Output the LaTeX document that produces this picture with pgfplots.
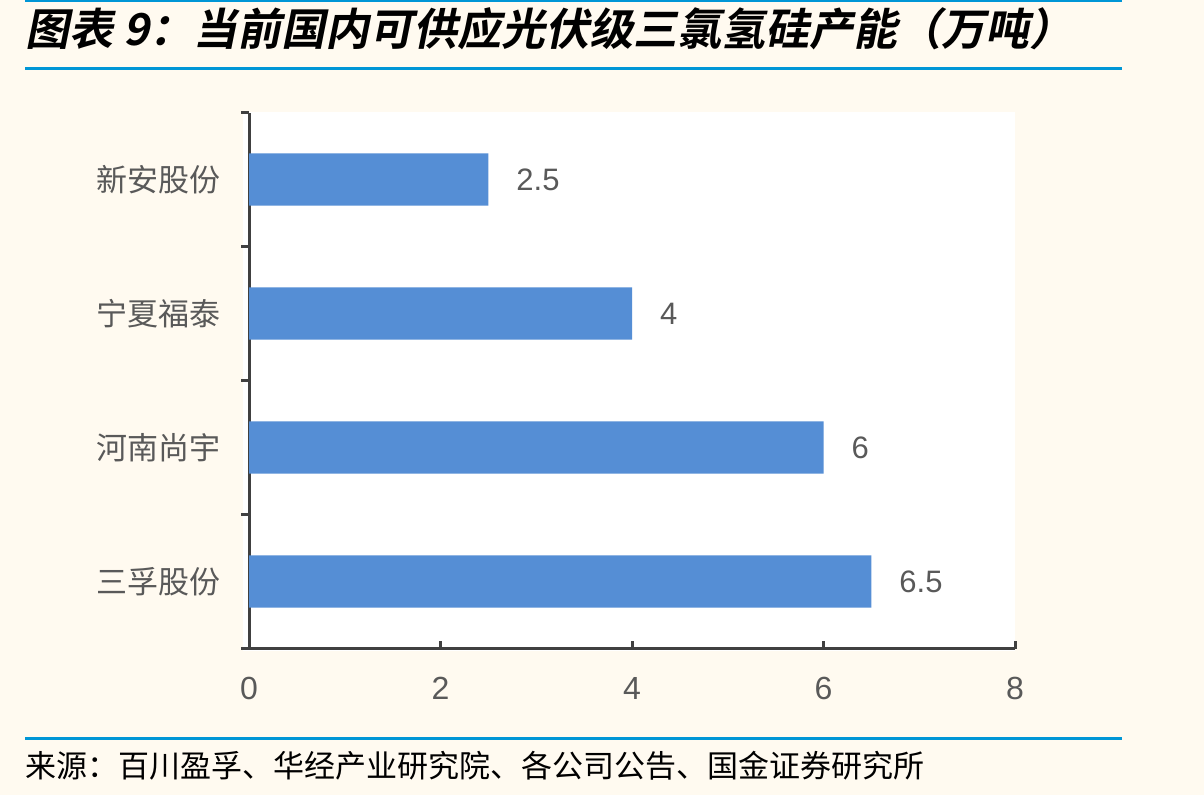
\documentclass[border=0pt]{standalone}
\usepackage{fontspec}
\setmainfont{Liberation Sans}
\newfontfamily\cjk{Noto Sans CJK SC}
\newfontfamily\cjktitle[FakeSlant=0.2]{Noto Sans CJK SC Bold}
\usepackage{pgfplots}
\pgfplotsset{compat=1.18}
\definecolor{bg}{RGB}{255,250,240}
\definecolor{barcol}{RGB}{85,142,213}
\definecolor{txtcol}{RGB}{89,89,89}
\definecolor{axcol}{RGB}{64,64,64}
\definecolor{blueline}{RGB}{0,150,214}
\begin{document}
\begin{tikzpicture}[x=0.5pt,y=0.5pt]
\fill[bg] (0,0) rectangle (1204,794);
\draw[blueline, line width=1pt] (25,793.5) -- (1122,793.5);
\draw[blueline, line width=1.5pt] (25,726) -- (1122,726);
\draw[blueline, line width=1.5pt] (25,56) -- (1122,56);
\fill[white] (243,144) rectangle (1015,682);
\node[anchor=west, inner sep=0pt] at (25,766) {\cjktitle\fontsize{22}{24}\selectfont 图表 9：当前国内可供应光伏级三氯氢硅产能（万吨）};
\node[anchor=west, inner sep=0pt] at (25,29) {\cjk\fontsize{15.5}{18}\selectfont 来源：百川盈孚、华经产业研究院、各公司公告、国金证券研究所};
\begin{axis}[
  at={(124.5pt,73pt)}, anchor=south west,
  scale only axis, width=383pt, height=268pt,
  xmin=0, xmax=8, ymin=-0.5, ymax=3.5,
  axis x line*=bottom, axis y line*=left,
  axis line style={-, axcol, line width=1.5pt},
  /pgf/number format/assume math mode=true,
  xtick={0,2,4,6,8},
  ytick={-0.5,0.5,1.5,2.5,3.5}, yticklabels={},
  extra y ticks={0,1,2,3},
  extra y tick labels={三孚股份,河南尚宇,宁夏福泰,新安股份},
  extra y tick style={major tick length=0pt},
  tick align=inside,
  major tick length=4pt,
  tick style={axcol, line width=1.5pt},
  xticklabel style={font=\fontsize{16}{18}\selectfont, text=txtcol, yshift=-11pt},
  yticklabel style={font=\cjk\fontsize{15.5}{18}\selectfont, text=txtcol, xshift=-10.5pt},
  xbar, bar width=0.39,
  nodes near coords,
  nodes near coords style={font=\fontsize{15.5}{18}\selectfont, text=txtcol, anchor=west, xshift=10.5pt},
  clip=false,
]
\addplot[fill=barcol, draw=none] coordinates {(6.5,0) (6,1) (4,2) (2.5,3)};
\end{axis}
\end{tikzpicture}
\end{document}
